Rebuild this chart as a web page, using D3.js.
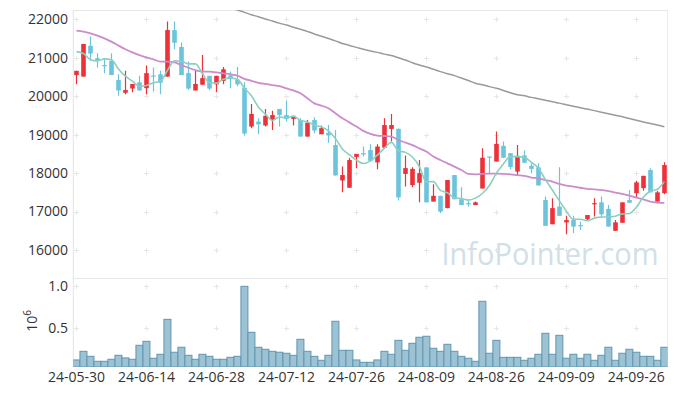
<!DOCTYPE html>
<html><head><meta charset="utf-8">
<script src="https://cdn.jsdelivr.net/npm/d3@7"></script>
<style>body{margin:0;background:#fff}svg{display:block;font-family:"Open Sans",sans-serif}</style>
</head><body><svg id="c" width="677" height="396"></svg>
<script>
const dates = ["24-05-30","24-05-31","24-06-03","24-06-04","24-06-05","24-06-07","24-06-10","24-06-11","24-06-12","24-06-13",
"24-06-14","24-06-17","24-06-18","24-06-19","24-06-20","24-06-21","24-06-24","24-06-25","24-06-26","24-06-27",
"24-06-28","24-07-01","24-07-02","24-07-03","24-07-04","24-07-05","24-07-08","24-07-09","24-07-10","24-07-11",
"24-07-12","24-07-15","24-07-16","24-07-17","24-07-18","24-07-19","24-07-22","24-07-23","24-07-24","24-07-25",
"24-07-26","24-07-29","24-07-30","24-07-31","24-08-01","24-08-02","24-08-05","24-08-06","24-08-07","24-08-08",
"24-08-09","24-08-12","24-08-13","24-08-14","24-08-16","24-08-19","24-08-20","24-08-21","24-08-22","24-08-23",
"24-08-26","24-08-27","24-08-28","24-08-29","24-08-30","24-09-02","24-09-03","24-09-04","24-09-05","24-09-06",
"24-09-09","24-09-10","24-09-11","24-09-12","24-09-13","24-09-19","24-09-20","24-09-23","24-09-24","24-09-25",
"24-09-26","24-09-27","24-09-30","24-10-02","24-10-04"];

const opens = [20550,20510,21310,20990,20810,20920,20420,20090,20200,20360,
20210,20540,20570,20510,21720,21280,20600,20150,20300,20530,
20310,20400,20540,20430,20220,19210,19340,19240,19380,19670,
19510,19410,19380,18950,19380,19010,19050,18730,17810,17620,
18420,18520,18600,18280,18660,19150,19150,17980,17690,17750,
18150,17260,17410,17090,17950,17320,17220,17170,17600,18430,
18300,18710,18520,18040,18460,18190,18150,17300,16670,17130,
16720,16780,16650,16800,17190,17240,17070,16500,16710,17300,
17480,17610,18080,17260,17480];
const highs = [20660,21360,21550,21120,20990,21120,20570,20660,20320,20530,
20800,20750,20660,21940,21940,21400,20900,20660,21070,20530,
20530,20760,20640,20760,20360,19800,19430,19670,19620,19670,
19890,19490,19430,19380,19450,19240,19250,19120,18170,18400,
18500,18690,18750,18750,19430,19540,19170,18460,18150,18340,
18150,17710,17410,17820,17950,17630,17330,17260,18650,18430,
19080,18820,18520,18730,18590,18260,18260,17390,17350,18150,
16890,16890,16740,16910,17350,17390,17170,16780,17240,17560,
17800,17930,18130,17540,18280];
const lows = [20310,20510,20920,20750,20600,20550,20010,20050,20100,20150,
20050,20120,20050,20510,21220,20550,20160,20150,20300,20160,
20100,20310,20210,20260,18980,19170,19010,19210,19120,19210,
19340,19240,18950,18950,19040,19010,18790,17940,17500,17620,
18130,18430,18290,18100,18660,18820,17290,17650,17630,17240,
17240,17260,16960,17090,17320,17170,17130,17170,17600,18000,
18300,18390,18100,17950,18270,18000,17680,16630,16670,16890,
16410,16440,16520,16780,16870,16830,16610,16500,16710,17230,
17350,17540,17500,17220,17450];
const closes = [20660,21360,21110,20940,20790,20550,20150,20160,20320,20150,
20600,20510,20350,21720,21390,20550,20200,20320,20470,20200,
20530,20700,20470,20310,19030,19540,19270,19490,19510,19510,
19410,19490,18950,19310,19110,19170,18980,17940,17950,18340,
18500,18510,18320,18690,19250,19250,17370,18130,18110,18000,
17240,17410,17000,17820,17320,17170,17190,17240,18400,18400,
18760,18400,18160,18450,18270,18110,17680,16630,17090,16890,
16780,16610,16630,16910,17220,16930,16610,16720,17240,17230,
17760,17930,17500,17500,18210];
const volumes = [126000,228000,169000,110000,110000,134000,181000,150000,134000,299000,
346000,146000,193000,606000,217000,276000,181000,134000,193000,169000,
134000,134000,157000,169000,996000,453000,276000,252000,228000,217000,
205000,181000,370000,228000,169000,122000,181000,583000,240000,240000,
126000,98000,98000,126000,228000,193000,358000,240000,323000,394000,
406000,264000,228000,311000,228000,169000,146000,110000,819000,205000,
358000,157000,157000,157000,122000,146000,193000,441000,193000,417000,
146000,193000,146000,193000,122000,181000,276000,122000,205000,252000,
217000,169000,169000,122000,276000];
const ma5 = [21160,21110,20950,20920,20970,20950,20710,20520,20390,20260,
20280,20350,20390,20670,20920,20910,20840,20840,20590,20350,
20340,20440,20470,20440,20210,20010,19720,19530,19370,19460,
19440,19480,19370,19330,19250,19200,19100,18900,18630,18480,
18340,18250,18320,18470,18650,18800,18580,18540,18420,18170,
17770,17780,17550,17490,17360,17340,17300,17350,17470,17680,
18000,18240,18430,18430,18410,18280,18130,17830,17560,17280,
17010,16800,16800,16760,16830,16860,16860,16880,16940,16950,
17110,17380,17530,17580,17780];
const ma20 = [21705,21680,21635,21575,21505,21420,21315,21220,21140,21070,
21010,20960,20900,20900,20880,20810,20740,20680,20640,20640,
20620,20595,20570,20535,20450,20400,20350,20320,20290,20260,
20205,20150,20075,19945,19815,19755,19685,19555,19425,19320,
19210,19100,19020,18975,18965,18950,18860,18795,18730,18645,
18560,18430,18340,18255,18170,18080,17980,17970,17980,17985,
17985,17980,17970,17950,17930,17885,17865,17820,17780,17720,
17675,17650,17620,17590,17580,17560,17535,17495,17460,17415,
17365,17320,17260,17235,17225];
const ma60 = [null,null,null,null,null,null,null,null,null,null,
null,null,null,null,null,null,null,null,null,null,
22420,22360,22300,22242,22180,22120,22065,22008,21955,21900,
21850,21795,21740,21685,21620,21560,21500,21440,21370,21320,
21270,21220,21175,21140,21095,21060,21000,20940,20870,20810,
20760,20700,20640,20585,20535,20475,20410,20335,20300,20250,
20205,20150,20090,20040,20010,19970,19935,19895,19855,19820,
19780,19740,19700,19665,19625,19585,19545,19505,19465,19420,
19375,19330,19290,19250,19208];
const priceTicks = [16000,17000,18000,19000,20000,21000,22000];
const volTicks = [0.5,1.0];
const dateTicks = ["24-05-30","24-06-14","24-06-28","24-07-12","24-07-26","24-08-09","24-08-26","24-09-09","24-09-26"];

const svg = d3.select("#c");
const L = 73.3, R = 667.5, PT = 10, PB = 278, VB = 367;
const x = d3.scaleLinear().domain([-0.45, dates.length - 0.55]).range([L, R]);
const y = d3.scaleLinear().domain([15273, 22242]).range([PB, PT]);
const yv = d3.scaleLinear().domain([0.0426e6, 1.0946e6]).range([VB, PB]);
const step = x(1) - x(0);

const defs = svg.append("defs");
defs.append("clipPath").attr("id","cp").append("rect").attr("x",L).attr("y",PT).attr("width",R-L).attr("height",PB-PT);
defs.append("clipPath").attr("id","cv").append("rect").attr("x",L).attr("y",PB).attr("width",R-L).attr("height",VB-PB);

const gridC = "#e6e6e6";
// frame
svg.append("line").attr("x1",L).attr("x2",R).attr("y1",PT+0.5).attr("y2",PT+0.5).attr("stroke","#e6e6e6");
svg.append("line").attr("x1",L).attr("x2",R).attr("y1",PB+0.5).attr("y2",PB+0.5).attr("stroke","#e6e6e6");
svg.append("line").attr("x1",L).attr("x2",L).attr("y1",PT).attr("y2",VB).attr("stroke","#e3e3e3");
svg.append("line").attr("x1",R).attr("x2",R).attr("y1",PT).attr("y2",VB).attr("stroke","#ececec");

const tickIdx = dateTicks.map(d => dates.indexOf(d));
// plus-sign grid marks
const plus = (cx, cy) => {
  svg.append("line").attr("x1",cx-2.5).attr("x2",cx+2.5).attr("y1",cy).attr("y2",cy).attr("stroke",gridC);
  svg.append("line").attr("x1",cx).attr("x2",cx).attr("y1",cy-2.5).attr("y2",cy+2.5).attr("stroke",gridC);
};
tickIdx.forEach(i => {
  const cx = Math.round(x(i)) + 0.5;
  priceTicks.forEach(p => plus(cx, Math.round(y(p)) + 0.5));
  volTicks.forEach(v => plus(cx, Math.round(yv(v*1e6)) + 0.5));
});

// watermark
svg.append("text").attr("x",441.5).attr("y",265).attr("font-size",31).attr("fill","#d0dfe8")
  .attr("textLength",217).attr("lengthAdjust","spacingAndGlyphs").text("InfoPointer.com");

// volume bars
svg.append("g").attr("clip-path","url(#cv)").selectAll("rect").data(volumes).join("rect")
  .attr("x",(d,i)=>x(i)-step/2).attr("width",step)
  .attr("y",d=>yv(d)).attr("height",d=>VB-yv(d))
  .attr("fill","#9cc2d3").attr("stroke","#5f97b1").attr("stroke-width",1);

// candles
const up = "#ec3138", down = "#6cc4dc";
const gc = svg.append("g").attr("clip-path","url(#cp)");
const cg = gc.selectAll("g.k").data(dates.map((d,i)=>i)).join("g");
cg.append("line")
  .attr("x1",i=>Math.round(x(i))+0.5).attr("x2",i=>Math.round(x(i))+0.5)
  .attr("y1",i=>y(highs[i])).attr("y2",i=>y(lows[i]))
  .attr("stroke",i=>closes[i]>=opens[i]?up:down).attr("stroke-width",1.2);
const bw = 4.6;
cg.append("rect")
  .attr("x",i=>Math.round(x(i))+0.5-bw/2).attr("width",bw)
  .attr("y",i=>y(Math.max(opens[i],closes[i])))
  .attr("height",i=>Math.max(1.2, Math.abs(y(opens[i])-y(closes[i]))))
  .attr("fill",i=>closes[i]>=opens[i]?up:down);

// moving averages
const mkLine = arr => d3.line().defined(d=>d!=null).x((d,i)=>x(i)).y(d=>y(d)).curve(d3.curveMonotoneX)(arr);
gc.append("path").attr("d",mkLine(ma60)).attr("fill","none").attr("stroke","#9a9a9a").attr("stroke-width",1.5);
gc.append("path").attr("d",mkLine(ma20)).attr("fill","none").attr("stroke","#cc8ccc").attr("stroke-width",1.8);
gc.append("path").attr("d",mkLine(ma5)).attr("fill","none").attr("stroke","#8ccfc1").attr("stroke-width",1.6);

// axes labels
const txt = "#333";
priceTicks.forEach(p => svg.append("text").attr("x",68).attr("y",y(p)).attr("dy","0.35em")
  .attr("text-anchor","end").attr("font-size",14).attr("fill",txt).text(d3.format("d")(p)));
volTicks.forEach(v => svg.append("text").attr("x",68).attr("y",yv(v*1e6)).attr("dy","0.35em")
  .attr("text-anchor","end").attr("font-size",14).attr("fill",txt).text(d3.format(".1f")(v)));
tickIdx.forEach((i,k) => svg.append("text").attr("x",x(i)).attr("y",382)
  .attr("text-anchor","middle").attr("font-size",14).attr("fill",txt).text(dateTicks[k]));
const ul = svg.append("text").attr("transform","translate(37,321) rotate(-90)")
  .attr("text-anchor","middle").attr("font-size",14).attr("fill",txt);
ul.append("tspan").text("10");
ul.append("tspan").attr("dy",-6).attr("font-size",10).text("6");
</script></body></html>
